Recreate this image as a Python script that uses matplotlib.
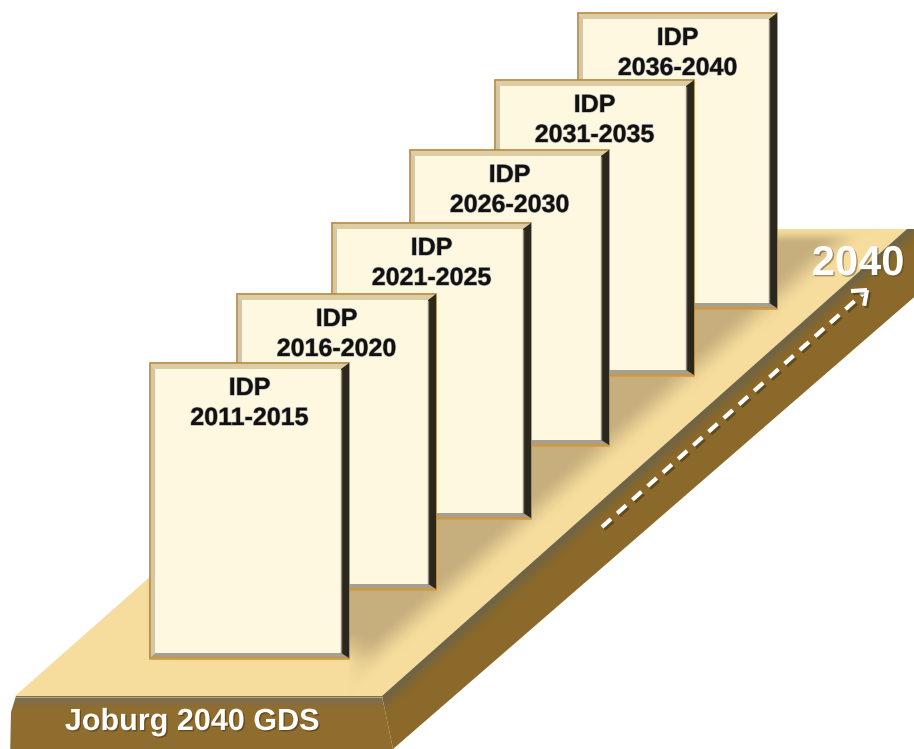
import numpy as np
import matplotlib
matplotlib.use("Agg")
import matplotlib.pyplot as plt
from matplotlib.patches import Polygon, Rectangle
import matplotlib.patheffects as pe

plan = "IDP"
periods = ["2011-2015", "2016-2020", "2021-2025", "2026-2030", "2031-2035", "2036-2040"]
horizon = "2040"
strategy = "Joburg 2040 GDS"

W, H = 914, 749
fig = plt.figure(figsize=(W / 100, H / 100), dpi=100)
ax = fig.add_axes([0, 0, 1, 1])
ax.set_xlim(0, W)
ax.set_ylim(H, 0)
ax.axis("off")

X, Y = np.meshgrid(np.arange(W) + 0.5, np.arange(H) + 0.5)


def rgb(c):
    return np.array(matplotlib.colors.to_rgb(c))


def smooth(a, b, v):
    t = np.clip((v - a) / (b - a), 0, 1)
    return t * t * (3 - 2 * t)


def blur(a, r):
    k = np.ones(2 * r + 1) / (2 * r + 1)
    a = np.apply_along_axis(lambda v: np.convolve(v, k, mode="same"), 0, a)
    a = np.apply_along_axis(lambda v: np.convolve(v, k, mode="same"), 1, a)
    return a


def paint(pts, img, z):
    poly = Polygon(pts, closed=True, facecolor="none", edgecolor="none", zorder=z)
    ax.add_patch(poly)
    im = ax.imshow(img, extent=(0, W, H, 0), origin="upper", zorder=z,
                   interpolation="bilinear")
    im.set_clip_path(poly)


# platform geometry
fl, fr, br, bl = (15, 696), (382, 696), (907, 229), (544, 229)
edge = np.array(br) - np.array(fr)
edge = edge / np.hypot(*edge)
n_out = np.array([edge[1], -edge[0]])
if n_out[1] < 0:
    n_out = -n_out
d_out = (X - fr[0]) * n_out[0] + (Y - fr[1]) * n_out[1]

# top face: light near the edges, tan shade behind the pages
light, tan = rgb("#f6dd9d"), rgb("#c6af7d")
band = 1 - smooth(20, 52, -d_out)
mask = ((X > 160) & ((Y < 648) | (X > 362))).astype(float)
mask = blur(mask, 14)
top_fade = smooth(229, 244, Y)
w = mask * (1 - band) * top_fade
top_img = light[None, None, :] * (1 - w[..., None]) + tan[None, None, :] * w[..., None]
paint([fl, fr, br, bl], top_img, 1)

# side face with bevel along its upper edge
c_bev, c_side = rgb("#6f6446"), rgb("#8a692a")
t = smooth(0, 16, d_out)
side_img = c_bev * (1 - t[..., None]) + c_side * t[..., None]
paint([fr, br, (920, 229), (920, 292), (393, 749)], side_img, 1)

# front face with bevel at the top
c_bev2, c_front = rgb("#7a6e52"), rgb("#8f6d2f")
t = smooth(697, 709, Y)
front_img = c_bev2 * (1 - t[..., None]) + c_front * t[..., None]
paint([(16, 696), fr, (393, 749), (393, 760), (10, 760), (11, 712)], front_img, 1)
ax.plot([16, 382], [696.5, 696.5], color="#b9a676", lw=0.8, zorder=2)

# dashed arrow towards the horizon
start, end = np.array([602, 527]), np.array([867, 290])
u = (end - start) / np.hypot(*(end - start))
shadow = [pe.SimpleLineShadow(offset=(1.5, -1.5), shadow_color="#3a2c10", alpha=0.5), pe.Normal()]
tip = end - u * 2
ax.plot([start[0], tip[0]], [start[1], tip[1]], color="white", lw=3,
        linestyle=(0, (2.9, 2.0)), solid_capstyle="butt", dash_capstyle="butt",
        path_effects=shadow, zorder=3)
for ang in (np.radians(38), -np.radians(38)):
    rot = np.array([[np.cos(ang), -np.sin(ang)], [np.sin(ang), np.cos(ang)]])
    arm = end - 16 * rot @ u
    ax.plot([arm[0], end[0]], [arm[1], end[1]], color="white", lw=3,
            solid_capstyle="butt", path_effects=shadow, zorder=3)

ax.text(858, 275, horizon, color="white", fontsize=30, fontweight="bold",
        family="Liberation Sans", ha="center", va="baseline", zorder=20,
        path_effects=[pe.withSimplePatchShadow(offset=(1, -1), shadow_rgbFace="#5a4520", alpha=0.5)])
ax.text(192, 730, strategy, color="white", fontsize=22, fontweight="bold",
        family="Liberation Sans", ha="center", va="baseline", zorder=20,
        path_effects=[pe.withSimplePatchShadow(offset=(1, -1), shadow_rgbFace="#3a2c10", alpha=0.5)])

# the plan cards, back to front
lefts = [150, 237, 332, 410, 495, 578]
tops = [363, 294, 223, 150, 80, 13]
cw, ch = 199, 295
for i in reversed(range(len(periods))):
    x0, y0 = lefts[i], tops[i]
    x1, y1 = x0 + cw, y0 + ch
    z = 10 + (len(periods) - i)
    ax.add_patch(Rectangle((x0, y0), cw, ch, facecolor="#fff8e1",
                           edgecolor="#b4863c", lw=1.2, zorder=z))
    ax.add_patch(Polygon([(x0 + 1, y0 + 1), (x1 - 1, y0 + 1), (x1 - 8, y0 + 6), (x0 + 5, y0 + 6)],
                         facecolor="#ddcda4", edgecolor="none", zorder=z))
    ax.add_patch(Polygon([(x0 + 1, y0 + 1), (x0 + 5, y0 + 6), (x0 + 5, y1 - 5), (x0 + 1, y1 - 1)],
                         facecolor="#d3c7a8", edgecolor="none", zorder=z))
    ax.add_patch(Polygon([(x0 + 1, y1 - 1), (x0 + 5, y1 - 5), (x1 - 8, y1 - 5), (x1 - 1, y1 - 1)],
                         facecolor="#a8a08c", edgecolor="none", zorder=z))
    ax.add_patch(Polygon([(x1, y0), (x1 - 8, y0 + 6), (x1 - 8, y1 - 5), (x1, y1)],
                         facecolor="#2b271d", edgecolor="none", zorder=z))
    ax.plot([x1 - 8.5, x1 - 8.5], [y0 + 7, y1 - 5], color="#8c8676", lw=1, zorder=z)
    ax.plot([x0, x1], [y1 + 1, y1 + 1], color="#d69c3e", lw=1.2, zorder=z)
    halo = [pe.withStroke(linewidth=1.0, foreground="#34405a", alpha=0.4)]
    ax.text(x0 + cw / 2, y0 + 32, plan, fontsize=18, fontweight="bold",
            family="Liberation Sans", color="#111111", ha="center", va="baseline",
            path_effects=halo, zorder=z)
    ax.text(x0 + cw / 2, y0 + 62, periods[i], fontsize=18, fontweight="bold",
            family="Liberation Sans", color="#111111", ha="center", va="baseline",
            path_effects=halo, zorder=z)

fig.savefig("out.png", dpi=100)
